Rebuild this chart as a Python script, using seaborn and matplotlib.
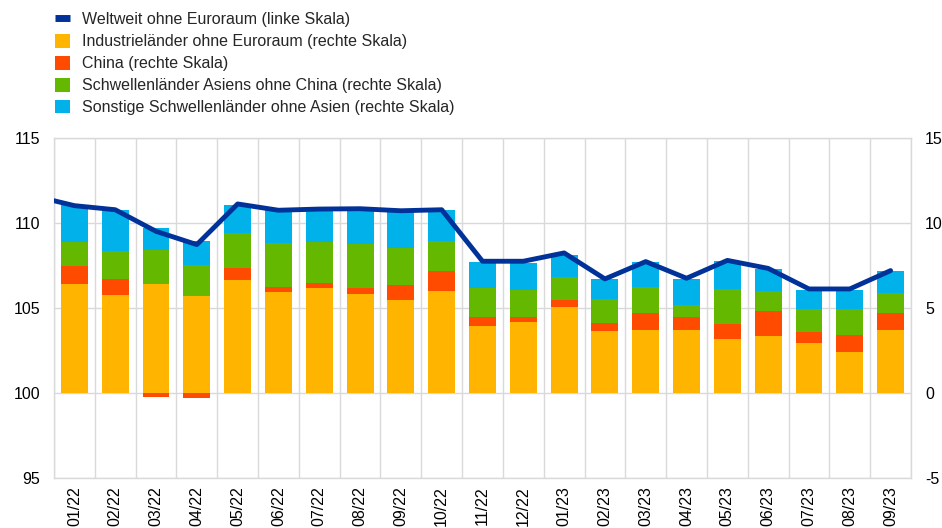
import numpy as np
import pandas as pd
import matplotlib
matplotlib.use("Agg")
import matplotlib.pyplot as plt
import seaborn as sns
from matplotlib.patches import Patch
from matplotlib.lines import Line2D

sns.set_theme(style="white")
plt.rcParams['font.family'] = ['Liberation Sans', 'DejaVu Sans']
plt.rcParams['axes.unicode_minus'] = False

months = ["01/22", "02/22", "03/22", "04/22", "05/22", "06/22", "07/22", "08/22", "09/22",
          "10/22", "11/22", "12/22", "01/23", "02/23", "03/23", "04/23", "05/23", "06/23",
          "07/23", "08/23", "09/23"]

# right scale (percentage points)
industrial = [6.43, 5.75, 6.41, 5.69, 6.63, 5.96, 6.20, 5.84, 5.49, 6.02, 3.96, 4.20, 5.08,
              3.65, 3.69, 3.73, 3.16, 3.33, 2.96, 2.39, 3.69]
china = [1.02, 0.94, -0.25, -0.30, 0.72, 0.28, 0.27, 0.32, 0.84, 1.14, 0.51, 0.27, 0.37,
         0.45, 1.02, 0.76, 0.92, 1.49, 0.61, 1.02, 1.02]
em_asia = [1.43, 1.68, 1.98, 1.82, 2.04, 2.56, 2.39, 2.59, 2.20, 1.76, 1.69, 1.61, 1.37,
           1.45, 1.54, 0.67, 2.04, 1.18, 1.37, 1.53, 1.19]
em_other = [2.20, 2.38, 1.31, 1.45, 1.69, 1.95, 1.89, 2.00, 2.10, 1.86, 1.55, 1.57, 1.32,
            1.14, 1.48, 1.57, 1.64, 1.31, 1.14, 1.14, 1.30]

# left scale (index); first value is the preceding month, clipped at the plot edge
world_prev = 111.6
world = [111.02, 110.78, 109.51, 108.73, 111.12, 110.75, 110.82, 110.84, 110.72, 110.78,
         107.75, 107.75, 108.24, 106.71, 107.73, 106.75, 107.80, 107.33, 106.12, 106.12, 107.20]

labels = ["Weltweit ohne Euroraum (linke Skala)",
          "Industrieländer ohne Euroraum (rechte Skala)",
          "China (rechte Skala)",
          "Schwellenländer Asiens ohne China (rechte Skala)",
          "Sonstige Schwellenländer ohne Asien (rechte Skala)"]

c_line = "#003299"
c_ind = "#FFB400"
c_chn = "#FF4B00"
c_asia = "#65B800"
c_oth = "#00B1EA"

FS = 11.5

fig = plt.figure(figsize=(9.42, 5.28), dpi=100)
ax = fig.add_axes([54/942, 1-478/528, (911-54)/942, (478-138)/528])

series = [(industrial, c_ind), (china, c_chn), (em_asia, c_asia), (em_other, c_oth)]
pos_bottom = np.zeros(len(months))
neg_bottom = np.zeros(len(months))
for vals, col in series:
    v = np.array(vals, dtype=float)
    bottom = np.where(v >= 0, pos_bottom, neg_bottom)
    df = pd.DataFrame({"month": months, "value": v})
    sns.barplot(data=df, x="month", y="value", order=months, color=col, saturation=1,
                width=0.66, bottom=bottom, edgecolor="none", linewidth=0, ax=ax, zorder=2)
    pos_bottom = pos_bottom + np.where(v >= 0, v, 0)
    neg_bottom = neg_bottom + np.where(v < 0, v, 0)

ax2 = ax.twinx()
lx = np.arange(-1, len(months))
ly = [world_prev] + world
sns.lineplot(x=lx, y=ly, ax=ax2, color=c_line, linewidth=3.5, solid_capstyle="round")

# bar axis: right scale
ax.set_ylim(-5, 15)
ax.set_yticks([-5, 0, 5, 10, 15])
ax.set_xlim(-0.5, len(months) - 0.5)
ax.yaxis.tick_right()
ax.set_xlabel("")
ax.set_ylabel("")
ax.set_xticks(np.arange(len(months)))
ax.set_xticklabels(months, rotation=90, va="top", ha="center")
ax.set_xticks(np.arange(len(months) + 1) - 0.5, minor=True)
ax.grid(False)
ax.grid(True, which="minor", axis="x", color="#d9d9d9", linewidth=1, zorder=0)
ax.grid(True, which="major", axis="y", color="#d9d9d9", linewidth=1, zorder=0)
ax.set_axisbelow(True)
ax.tick_params(axis="x", which="both", length=0, pad=6, labelsize=FS, colors="black")
ax.tick_params(axis="y", which="both", length=0, pad=10, labelsize=FS, colors="black",
               right=True, labelright=True, left=False, labelleft=False)
for s in ax.spines.values():
    s.set_color("#d9d9d9")
    s.set_linewidth(1)

# line axis: left scale
ax2.set_ylim(95, 115)
ax2.set_yticks([95, 100, 105, 110, 115])
ax2.set_xlim(-0.5, len(months) - 0.5)
ax2.yaxis.tick_left()
ax2.tick_params(axis="y", length=0, pad=10, labelsize=FS, colors="black",
                left=True, labelleft=True, right=False, labelright=False)
ax2.grid(False)
ax2.set_ylabel("")
for s in ax2.spines.values():
    s.set_visible(False)

handles = [Line2D([0], [0], color=c_line, linewidth=5, solid_capstyle="butt"),
           Patch(facecolor=c_ind, edgecolor="none"),
           Patch(facecolor=c_chn, edgecolor="none"),
           Patch(facecolor=c_asia, edgecolor="none"),
           Patch(facecolor=c_oth, edgecolor="none")]
fig.legend(handles, labels, loc="upper left", bbox_to_anchor=(55/942, 1-12/528),
           frameon=False, fontsize=FS, handlelength=0.95, handleheight=0.95,
           handletextpad=0.75, labelspacing=0.41, borderpad=0, borderaxespad=0)

fig.savefig("out.png", dpi=100)
